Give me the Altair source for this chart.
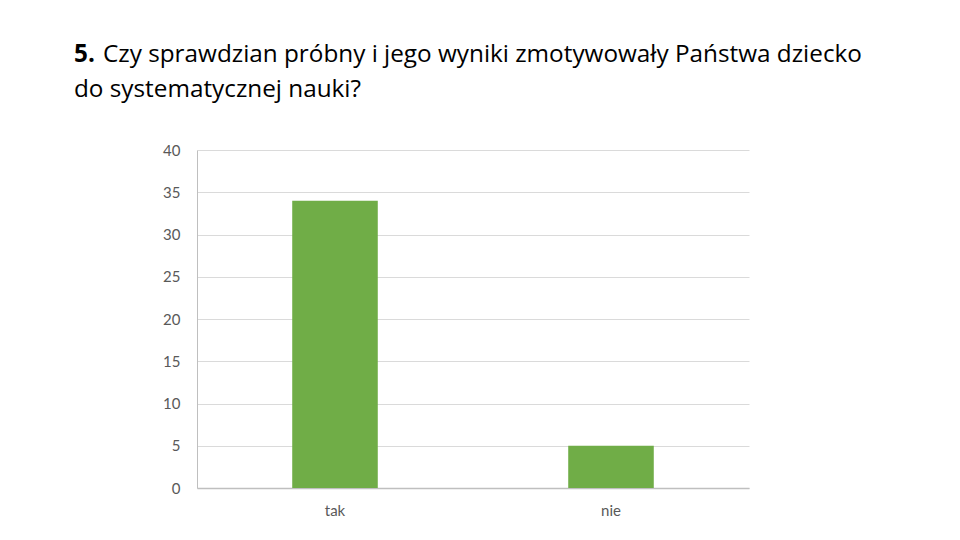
import altair as alt
import pandas as pd

categories = ["tak", "nie"]
values = [34, 5]
title_num = "5."
title_line1 = "Czy sprawdzian próbny i jego wyniki zmotywowały Państwa dziecko"
title_line2 = "do systematycznej nauki?"

df = pd.DataFrame({"kat": categories, "liczba": values})

FONT = "Lato"
TFONT = "Open Sans"
TSIZE = 24.3

bars = alt.Chart(df).mark_bar(color="#70AD47").encode(
    x=alt.X("kat:N", sort=categories, title=None,
            scale=alt.Scale(paddingInner=0.69, paddingOuter=0.345),
            axis=alt.Axis(labelAngle=0, labelFont=FONT, labelFontSize=15,
                          labelColor="#595959", labelPadding=15, ticks=False,
                          domainColor="#BFBFBF", domainWidth=1.5)),
    y=alt.Y("liczba:Q", title=None,
            scale=alt.Scale(domain=[0, 40]),
            axis=alt.Axis(values=[0, 5, 10, 15, 20, 25, 30, 35, 40],
                          labelFont=FONT, labelFontSize=15, labelColor="#595959",
                          labelPadding=17, ticks=False, grid=True,
                          gridColor="#DADADA", domainColor="#BFBFBF")),
)

t_num = alt.Chart(pd.DataFrame({"t": [title_num]})).mark_text(
    font=TFONT, fontSize=TSIZE, fontWeight="bold", align="left", baseline="alphabetic", color="#000000"
).encode(x=alt.value(-123), y=alt.value(-88), text="t:N")

t_l1 = alt.Chart(pd.DataFrame({"t": [title_line1]})).mark_text(
    font=TFONT, fontSize=TSIZE, align="left", baseline="alphabetic", color="#000000"
).encode(x=alt.value(-94), y=alt.value(-88), text="t:N")

t_l2 = alt.Chart(pd.DataFrame({"t": [title_line2]})).mark_text(
    font=TFONT, fontSize=TSIZE, align="left", baseline="alphabetic", color="#000000"
).encode(x=alt.value(-123), y=alt.value(-53), text="t:N")

chart = alt.layer(bars, t_num, t_l1, t_l2).properties(
    width=552, height=338,
    autosize=alt.AutoSizeParams(type="none"),
    padding={"left": 189, "top": 142, "right": 200, "bottom": 50},
).configure_view(stroke=None)

chart.save("out.html", embed_options={"renderer": "svg", "actions": False})
